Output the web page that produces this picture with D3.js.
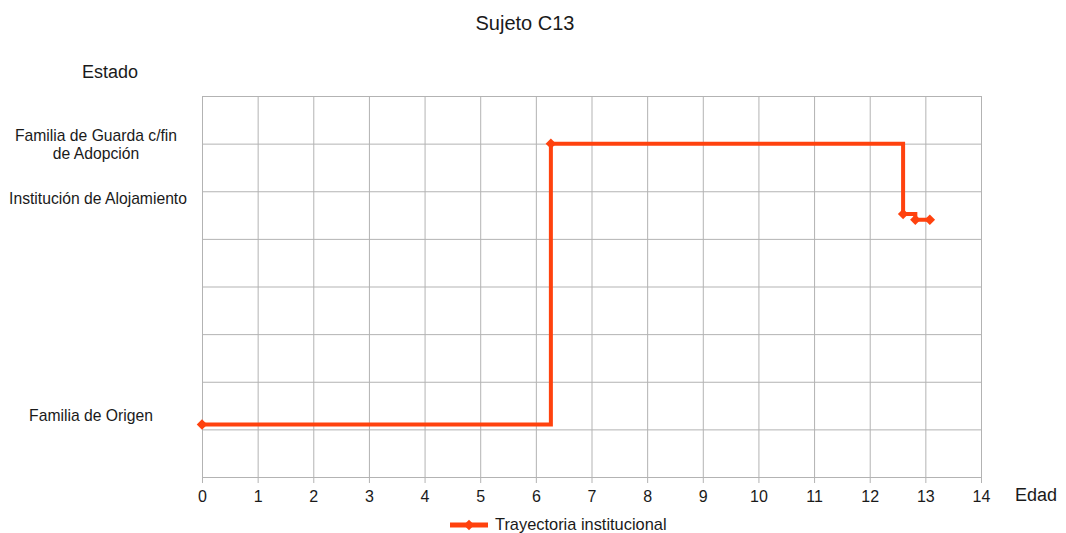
<!DOCTYPE html>
<html>
<head>
<meta charset="utf-8">
<script src="https://cdn.jsdelivr.net/npm/d3@7/dist/d3.min.js"></script>
<style>
  body { margin: 0; background: #fff; }
  text { font-family: "Liberation Sans", Arial, sans-serif; fill: #1a1a1a; }
</style>
</head>
<body>
<svg id="chart" width="1066" height="533"></svg>
<script>
// data
const edad = [0, 6.27, 12.6, 12.82, 13.08];
const estado = [1.1, 7, 5.52, 5.4, 5.4];
const xTicks = d3.range(0, 15);
const yGrid = d3.range(0, 9);
const yLabelValues = [6.97, 5.84, 1.28];
const yLabelTexts = [["Familia de Guarda c/fin", "de Adopción"], ["Institución de Alojamiento"], ["Familia de Origen"]];
const seriesName = "Trayectoria institucional";

const svg = d3.select("#chart");
const margin = {left: 202, right: 85, top: 96, bottom: 56};
const width = 1066 - margin.left - margin.right;
const height = 533 - margin.top - margin.bottom;
const color = "#ff420e";
const gridColor = "#b3b3b3";
const labelX = [96, 98, 91];

const x = d3.scaleLinear().domain([0, 14]).range([0, width]);
const y = d3.scaleLinear().domain([0, 8]).range([height, 0]);

const g = svg.append("g")
    .attr("transform", "translate(" + margin.left + "," + margin.top + ")");

// horizontal grid
g.append("g")
    .attr("class", "grid")
    .call(d3.axisLeft(y).tickValues(yGrid).tickSize(-width).tickFormat(""))
    .call(s => s.select(".domain").remove())
    .call(s => s.selectAll("line").attr("stroke", gridColor));

// vertical grid + x axis with small ticks below
const xAxis = d3.axisBottom(x)
    .tickValues(xTicks)
    .tickSize(6)
    .tickPadding(8)
    .tickFormat(d3.format("d"));

g.append("g")
    .attr("class", "grid")
    .call(d3.axisBottom(x).tickValues(xTicks).tickSize(height).tickFormat(""))
    .call(s => s.select(".domain").remove())
    .call(s => s.selectAll("line").attr("stroke", gridColor));

const xg = g.append("g")
    .attr("transform", "translate(0," + height + ")")
    .call(xAxis);
xg.select(".domain").remove();
xg.selectAll("line").attr("stroke", gridColor);
xg.selectAll("text")
    .style("font-family", "'Liberation Sans', Arial, sans-serif")
    .style("font-size", "16px")
    .attr("fill", "#1a1a1a");

// y category labels
const yl = svg.append("g")
    .attr("transform", "translate(0," + margin.top + ")");
yLabelValues.forEach((v, i) => {
    const lines = yLabelTexts[i];
    const lh = 18;
    const t = yl.append("text")
        .attr("text-anchor", "middle")
        .attr("font-size", "15.7px")
        .attr("y", y(v) - (lines.length - 1) * lh / 2 + 5);
    lines.forEach((l, j) => {
        t.append("tspan").attr("x", labelX[i]).attr("dy", j === 0 ? 0 : lh).text(l);
    });
});

// series
const pts = edad.map((d, i) => [d, estado[i]]);
const line = d3.line()
    .x(d => x(d[0]))
    .y(d => y(d[1]))
    .curve(d3.curveStepAfter);

g.append("path")
    .datum(pts)
    .attr("fill", "none")
    .attr("stroke", color)
    .attr("stroke-width", 4)
    .attr("d", line);

const diamond = d3.symbol().type(d3.symbolDiamond2).size(70);
g.selectAll(".pt")
    .data(pts)
    .join("path")
    .attr("class", "pt")
    .attr("transform", d => "translate(" + x(d[0]) + "," + y(d[1]) + ")")
    .attr("d", diamond)
    .attr("fill", color);

// title and axis names
svg.append("text")
    .attr("x", 525).attr("y", 30)
    .attr("text-anchor", "middle")
    .attr("font-size", "20px")
    .text("Sujeto C13");

svg.append("text")
    .attr("x", 110).attr("y", 78)
    .attr("text-anchor", "middle")
    .attr("font-size", "18px")
    .text("Estado");

svg.append("text")
    .attr("x", 1036).attr("y", 501)
    .attr("text-anchor", "middle")
    .attr("font-size", "18px")
    .text("Edad");

// legend
const lg = svg.append("g").attr("transform", "translate(450,525)");
lg.append("line")
    .attr("x1", 0).attr("x2", 38)
    .attr("stroke", color).attr("stroke-width", 5);
lg.append("path")
    .attr("transform", "translate(19,0)")
    .attr("d", diamond)
    .attr("fill", color);
lg.append("text")
    .attr("x", 45).attr("y", 5)
    .attr("font-size", "16.4px")
    .text(seriesName);
</script>
</body>
</html>
